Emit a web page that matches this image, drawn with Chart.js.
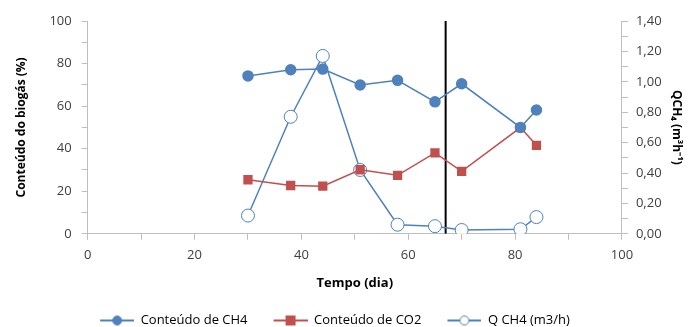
<!DOCTYPE html>
<html>
<head>
<meta charset="utf-8">
<script src="https://cdn.jsdelivr.net/npm/chart.js@4.4.1/dist/chart.umd.min.js"></script>
<style>
  html, body { margin: 0; padding: 0; background: #fff; }
  #wrap { width: 692px; height: 327px; }
</style>
</head>
<body>
<div id="wrap"><canvas id="myChart" width="692" height="327"></canvas></div>
<script>
// dias de coleta
const days = [30, 38, 44, 51, 58, 65, 70, 81, 84]
const ch4 = [74.2, 77.1, 77.4, 69.9, 72.1, 62.0, 70.5, 50.0, 58.2]
const co2 = [25.4, 22.7, 22.4, 30.1, 27.5, 38.0, 29.3, 49.9, 41.6]
const qch4 = [0.12, 0.77, 1.17, 0.42, 0.06, 0.05, 0.025, 0.03, 0.11]
const markerDay = 67

const blue = '#4F81BD'
const red = '#C0504D'
const axisColor = '#BFBFBF'
const font = "'Open Sans', 'Liberation Sans', sans-serif"

function pts (ys) {
    return days.map((d, i) => ({x: d, y: ys[i]}))
}

// line + marker icon for the legend, with blank room on the left as item spacing
function legendIcon (color, shape, filled) {
    const c = document.createElement('canvas')
    c.width = 60
    c.height = 12
    const g = c.getContext('2d')
    g.strokeStyle = color
    g.lineWidth = 2
    g.beginPath()
    g.moveTo(26, 6)
    g.lineTo(60, 6)
    g.stroke()
    g.fillStyle = filled ? color : '#fff'
    g.lineWidth = 1
    if (shape === 'rect') {
        g.fillRect(38, 1, 10, 10)
    } else {
        g.beginPath()
        g.arc(43, 6, 4.5, 0, Math.PI * 2)
        g.fill()
        g.stroke()
    }
    return c
}

const icons = [
    legendIcon(blue, 'circle', true),
    legendIcon(red, 'rect', true),
    legendIcon(blue, 'circle', false)
]

// the legend sits a bit left of centre and low in the original
const shiftLegend = {
    id: 'shiftLegend',
    afterLayout (chart) {
        chart.legend.left -= 22
        chart.legend.right -= 22
        chart.legend.top += 10
        chart.legend.bottom += 10
    }
}

let chartContext = document.getElementById('myChart').getContext('2d')

const myChart = new Chart(chartContext, {
    type: 'line',
    data: {
        datasets: [
            {
                label: 'Conteúdo de CH4',
                data: pts(ch4),
                borderColor: blue,
                backgroundColor: blue,
                borderWidth: 1.5,
                pointStyle: 'circle',
                pointRadius: 5,
                yAxisID: 'y'
            },
            {
                label: 'Conteúdo de CO2',
                data: pts(co2),
                borderColor: red,
                backgroundColor: red,
                borderWidth: 1.5,
                pointStyle: 'rect',
                pointRadius: 5.5,
                yAxisID: 'y'
            },
            {
                label: 'Q CH4 (m3/h)',
                data: pts(qch4),
                borderColor: blue,
                backgroundColor: '#fff',
                borderWidth: 1.5,
                pointStyle: 'circle',
                pointRadius: 6.5,
                pointBorderWidth: 1,
                yAxisID: 'y1'
            },
            {
                label: 'marker',
                data: [{x: markerDay, y: 0}, {x: markerDay, y: 100}],
                borderColor: '#000',
                borderWidth: 2,
                pointRadius: 0,
                yAxisID: 'y'
            }
        ]
    },
    plugins: [shiftLegend],
    options: {
        responsive: false,
        animation: false,
        layout: {padding: {left: 0, right: 4, top: 21, bottom: 0}},
        plugins: {
            tooltip: {enabled: false},
            legend: {
                position: 'bottom',
                labels: {
                    font: {family: font, size: 13},
                    color: '#404040',
                    usePointStyle: true,
                    pointStyleWidth: 60,
                    padding: 0,
                    generateLabels: function (chart) {
                        return chart.data.datasets.slice(0, 3).map((ds, i) => ({
                            text: ds.label,
                            pointStyle: icons[i],
                            fillStyle: 'transparent',
                            strokeStyle: 'transparent',
                            lineWidth: 0,
                            datasetIndex: i
                        }))
                    }
                }
            }
        },
        scales: {
            x: {
                type: 'linear',
                min: 0,
                max: 100,
                ticks: {
                    stepSize: 10,
                    autoSkip: false,
                    maxRotation: 0,
                    padding: 8,
                    callback: v => v % 20 === 0 ? v : '',
                    font: {family: font, size: 13},
                    color: '#404040'
                },
                grid: {drawOnChartArea: false, color: axisColor, tickLength: 6},
                border: {color: axisColor},
                title: {
                    display: true,
                    text: 'Tempo (dia)',
                    font: {family: font, size: 13, weight: 'bold'},
                    color: '#000',
                    padding: {top: 4, bottom: 13}
                }
            },
            y: {
                position: 'left',
                min: 0,
                max: 100,
                ticks: {
                    stepSize: 10,
                    autoSkip: false,
                    padding: 10,
                    callback: v => v % 20 === 0 ? v : '',
                    font: {family: font, size: 13},
                    color: '#404040'
                },
                grid: {drawOnChartArea: false, color: axisColor, tickLength: 6},
                border: {color: axisColor},
                title: {
                    display: true,
                    text: 'Conteúdo do biogás (%)',
                    font: {family: font, size: 12, weight: 'bold'},
                    color: '#000',
                    padding: {top: 14, bottom: 11}
                }
            },
            y1: {
                position: 'right',
                min: 0,
                max: 1.4,
                ticks: {
                    stepSize: 0.1,
                    autoSkip: false,
                    padding: 8,
                    callback: v => Math.round(v * 10) % 2 === 0 ? v.toFixed(2).replace('.', ',') : '',
                    font: {family: font, size: 13},
                    color: '#404040'
                },
                grid: {drawOnChartArea: false, color: axisColor, tickLength: 6},
                border: {color: axisColor},
                title: {
                    display: true,
                    text: 'QCH₄ (m³h⁻¹)',
                    font: {family: font, size: 12, weight: 'bold'},
                    color: '#000',
                    padding: {top: 4, bottom: 0}
                }
            }
        }
    }
})
</script>
</body>
</html>
